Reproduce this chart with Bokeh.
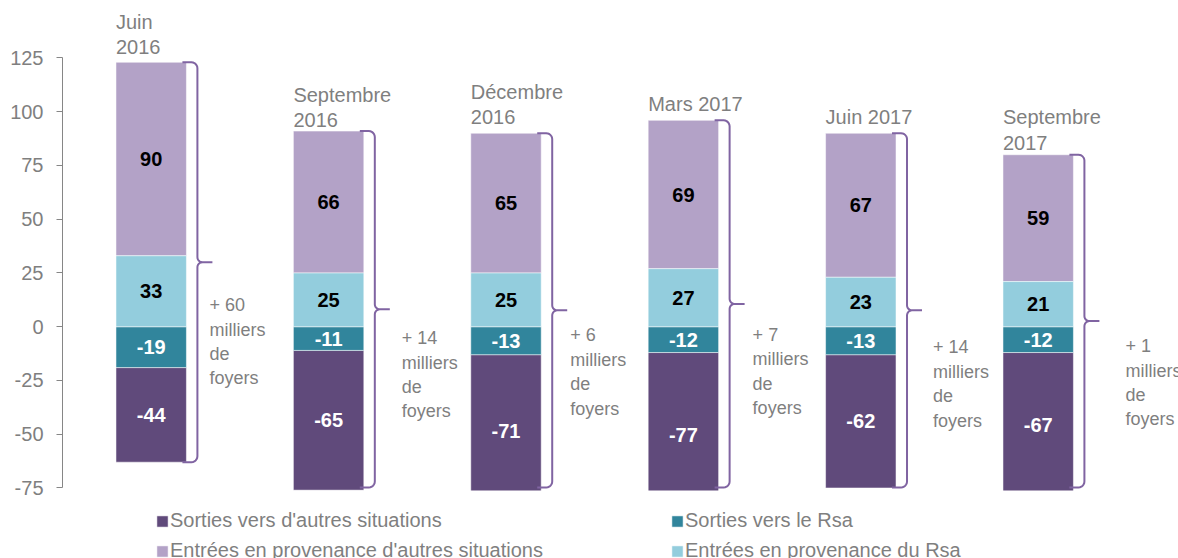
import numpy as np
from bokeh.plotting import figure
from bokeh.models import ColumnDataSource, Range1d, FixedTicker, Legend, LegendItem, BoxAnnotation
from bokeh.core.properties import value
from bokeh.embed import file_html
from bokeh.resources import INLINE

# ---------------- data ----------------
periods = ["Juin\n2016", "Septembre\n2016", "Décembre\n2016", "Mars 2017", "Juin 2017", "Septembre\n2017"]
sorties_autres = [-44, -65, -71, -77, -62, -67]
sorties_rsa = [-19, -11, -13, -12, -13, -12]
entrees_autres = [90, 66, 65, 69, 67, 59]
entrees_rsa = [33, 25, 25, 27, 23, 21]
net_change = ["+ 60", "+ 14", "+ 6", "+ 7", "+ 14", "+ 1"]
series_names = ["Sorties vers d'autres situations", "Sorties vers le Rsa",
                "Entrées en provenance d'autres situations", "Entrées en provenance du Rsa"]
y_ticks = [-75, -50, -25, 0, 25, 50, 75, 100, 125]

# ---------------- layout / style ----------------
W, H = 1178, 558
BORDER_L = 62
FRAME_W, FRAME_H = W - BORDER_L, H
X0, X1 = 0.0, FRAME_W / 177.4
Y1 = 151.74
Y0 = Y1 - FRAME_H / 2.15
Y_CLIP = -76.16                      # bars are cut at the bottom of the chart area
PXX = (X1 - X0) / FRAME_W
PXY = (Y1 - Y0) / FRAME_H
BAR_W = 0.397
FONT = "Liberation Sans"
GREY = "#7f7f7f"
C_SORT_AUT = "#604a7b"
C_SORT_RSA = "#31859c"
C_ENT_AUT = "#b3a2c7"
C_ENT_RSA = "#93cddd"
C_BRACE = "#8064a2"
label_gap = [4, 0, 5, 5, 5, 1]          # px between period label and bar top
net_dx = [23, 38, 29, 34, 37, 52]       # px right of bar edge
net_dy = [44, 30, 26, 32, 38, 26]       # px below brace tip

n = len(periods)
xs = [i + 0.5 for i in range(n)]

p = figure(width=W, height=H, output_backend="svg", toolbar_location=None,
           x_range=Range1d(X0, X1), y_range=Range1d(Y0, Y1),
           x_axis_type=None, min_border_left=BORDER_L, min_border_right=0,
           min_border_top=0, min_border_bottom=0)
p.outline_line_color = None
p.ygrid.visible = False
p.background_fill_color = "white"
p.border_fill_color = "white"

ax = p.yaxis[0]
ax.ticker = FixedTicker(ticks=y_ticks)
ax.bounds = (min(y_ticks), max(y_ticks))
ax.major_label_overrides = {t: str(t) for t in y_ticks}
ax.axis_line_color = "#868686"
ax.major_tick_line_color = "#868686"
ax.major_tick_out = 6
ax.major_tick_in = 0
ax.minor_tick_line_color = None
ax.major_label_standoff = 13
ax.major_label_text_font = FONT
ax.major_label_text_font_size = "20px"
ax.major_label_text_color = GREY

# stacked segments
neg1_top = [0] * n
neg1_bot = sorties_rsa
neg2_top = sorties_rsa
neg2_bot = [a + b for a, b in zip(sorties_rsa, sorties_autres)]
pos1_bot = [0] * n
pos1_top = entrees_rsa
pos2_bot = entrees_rsa
pos2_top = [a + b for a, b in zip(entrees_rsa, entrees_autres)]

segs = [
    (neg2_bot, neg2_top, sorties_autres, C_SORT_AUT, "white"),
    (neg1_bot, neg1_top, sorties_rsa, C_SORT_RSA, "white"),
    (pos2_bot, pos2_top, entrees_autres, C_ENT_AUT, "black"),
    (pos1_bot, pos1_top, entrees_rsa, C_ENT_RSA, "black"),
]
renderers = []
for bot, top, vals, col, tcol in segs:
    src = ColumnDataSource(dict(x=xs, bottom=bot, top=top,
                                mid=[(a + b) / 2 for a, b in zip(bot, top)],
                                lab=[str(v) for v in vals]))
    r = p.vbar(x="x", width=BAR_W, bottom="bottom", top="top", source=src,
               fill_color=col, line_color="white", line_alpha=0.5, line_width=1)
    renderers.append(r)
    p.text(x="x", y="mid", text="lab", source=src, text_align="center",
           text_baseline="middle", text_color=tcol, text_font=value(FONT),
           text_font_size="20px", text_font_style="bold")

# period labels above bars
lsrc = ColumnDataSource(dict(x=[x - BAR_W / 2 for x in xs], y=pos2_top, t=periods,
                             yo=[-g for g in label_gap]))
p.text(x="x", y="y", text="t", source=lsrc, y_offset="yo", text_align="left",
       text_baseline="bottom", text_color=GREY, text_font=value(FONT),
       text_font_size="20px", text_line_height=1.15)


# braces
def arc(cx, cy, a0, a1, r, k=7):
    a = np.linspace(np.radians(a0), np.radians(a1), k)
    return list(cx + r * PXX * np.cos(a)), list(cy + r * PXY * np.sin(a))


bx, by, mids, rights = [], [], [], []
for i in range(n):
    xr = xs[i] + BAR_W / 2
    top = pos2_top[i]
    bot = max(neg2_bot[i], Y_CLIP + 3 * PXY)
    mid = (top + bot) / 2
    v = xr + 11 * PXX
    r, r2 = 6, 5
    X, Y = [xr - 4 * PXX], [top]
    ax_, ay_ = arc(v - r * PXX, top - r * PXY, 90, 0, r); X += ax_; Y += ay_
    ax_, ay_ = arc(v + r2 * PXX, mid + r2 * PXY, 180, 270, r2); X += ax_; Y += ay_
    X += [xr + 26 * PXX, v + r2 * PXX]; Y += [mid, mid]
    ax_, ay_ = arc(v + r2 * PXX, mid - r2 * PXY, 90, 180, r2); X += ax_; Y += ay_
    ax_, ay_ = arc(v - r * PXX, bot + r * PXY, 0, -90, r); X += ax_; Y += ay_
    X += [xr - 4 * PXX]; Y += [bot]
    bx.append(X); by.append(Y); mids.append(mid); rights.append(xr)
p.multi_line(xs=bx, ys=by, line_color=C_BRACE, line_width=2)

nsrc = ColumnDataSource(dict(x=rights, y=mids,
                             t=[f"{c}\nmilliers\nde\nfoyers" for c in net_change],
                             xo=net_dx, yo=[d - 11 for d in net_dy]))
p.text(x="x", y="y", text="t", source=nsrc, x_offset="xo", y_offset="yo",
       text_align="left", text_baseline="top", text_color=GREY,
       text_font=value(FONT), text_font_size="18px", text_line_height=1.22)

# white band below the chart area (cuts the bars, holds the legend)
p.add_layout(BoxAnnotation(top=Y_CLIP, fill_color="white", fill_alpha=1.0, line_color=None))

legend = Legend(items=[LegendItem(label=series_names[k], renderers=[renderers[k]]) for k in range(4)],
                orientation="horizontal", ncols=2, location=(93, -4),
                glyph_width=14, glyph_height=14, label_standoff=1, label_width=493,
                label_height=21, spacing=7, padding=0, margin=0,
                border_line_color=None, background_fill_alpha=0,
                label_text_font=FONT, label_text_font_size="20px", label_text_color=GREY)
p.add_layout(legend)

open("out.html", "w").write(file_html(p, INLINE))
